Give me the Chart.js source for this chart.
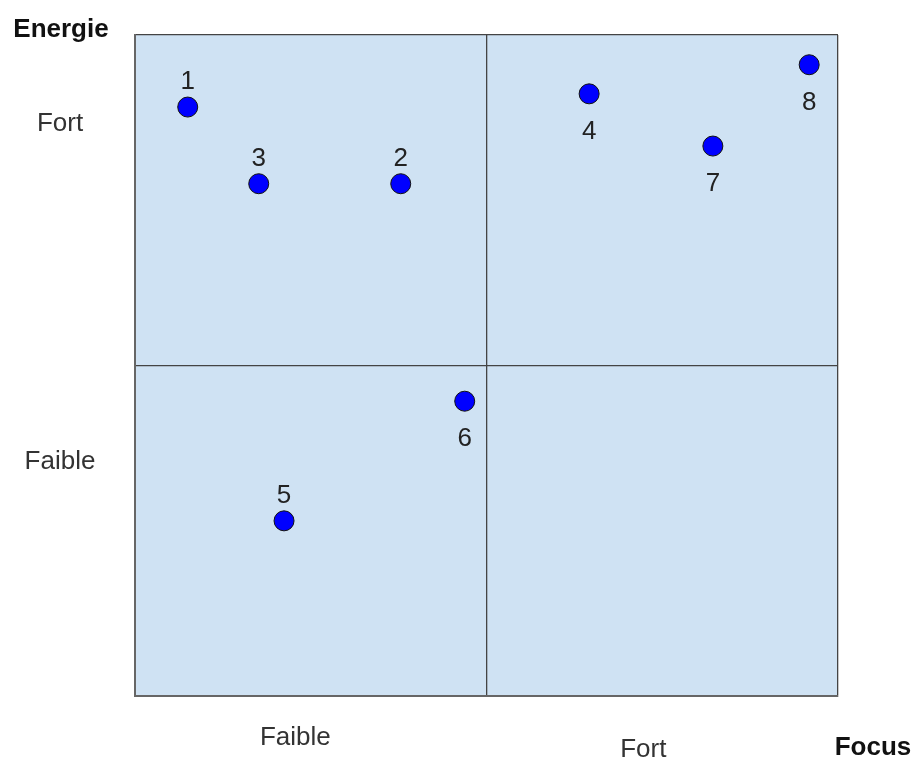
<!DOCTYPE html>
<html>
<head>
<meta charset="utf-8">
<script src="https://cdn.jsdelivr.net/npm/chart.js@4/dist/chart.umd.min.js"></script>
<style>
  html, body { margin: 0; padding: 0; background: #fff; }
  canvas { display: block; }
</style>
</head>
<body>
<canvas id="quadrant" width="915" height="762"></canvas>
<script>
// points: focus (x) and energie (y), 0..10
const pointNames = ['1', '2', '3', '4', '5', '6', '7', '8'];
const focusValues = [0.75, 3.78, 1.76, 6.46, 2.12, 4.69, 8.22, 9.59];
const energyValues = [8.91, 7.75, 7.75, 9.11, 2.65, 4.46, 8.32, 9.55];
const labelSide = ['top', 'top', 'top', 'bottom', 'top', 'bottom', 'bottom', 'bottom'];

// axis categories
const xTickLabels = ['Faible', 'Fort'];
const xTickValues = [2.28, 7.23];
const yTickLabels = ['Fort', 'Faible'];
const yTickValues = [8.65, 3.54];
const xAxisTitle = 'Focus';
const yAxisTitle = 'Energie';

const FONT = '"Liberation Sans", Arial, sans-serif';

// light blue fill behind the plot
const areaFill = {
    id: 'areaFill',
    beforeDraw(chart) {
        const a = chart.chartArea;
        const ctx = chart.ctx;
        ctx.save();
        ctx.fillStyle = '#cfe2f3';
        ctx.fillRect(a.left, a.top, a.right - a.left, a.bottom - a.top);
        ctx.restore();
    }
};

// numbers next to each point + category texts
const textLabels = {
    id: 'textLabels',
    afterDatasetsDraw(chart) {
        const ctx = chart.ctx;
        const xs = chart.scales.x;
        const ys = chart.scales.y;
        const meta = chart.getDatasetMeta(0);
        ctx.save();
        ctx.textAlign = 'center';
        ctx.textBaseline = 'middle';
        ctx.fillStyle = '#222';
        ctx.font = '26px ' + FONT;
        meta.data.forEach(function(pt, i) {
            const off = labelSide[i] == 'top' ? -25 : 38;
            ctx.fillText(pointNames[i], pt.x, pt.y + off);
        });

        ctx.fillStyle = '#333';
        for (var i = 0; i < xTickLabels.length; i++) {
            const px = xs.getPixelForValue(xTickValues[i]);
            ctx.fillText(xTickLabels[i], px, chart.chartArea.bottom + 42 + i * 12);
        }
        for (var j = 0; j < yTickLabels.length; j++) {
            const py = ys.getPixelForValue(yTickValues[j]);
            ctx.fillText(yTickLabels[j], 60, py);
        }

        ctx.fillStyle = '#111';
        ctx.font = 'bold 26px ' + FONT;
        ctx.fillText(xAxisTitle, 873, 748);
        ctx.fillText(yAxisTitle, 61, 30);
        ctx.restore();
    }
};

const ctx = document.getElementById('quadrant').getContext('2d');
const chart = new Chart(ctx, {
    type: 'scatter',
    data: {
        datasets: [{
            data: focusValues.map((v, i) => ({ x: v, y: energyValues[i] })),
            backgroundColor: '#0000ff',
            borderColor: '#111',
            borderWidth: 1,
            pointRadius: 10,
            pointHoverRadius: 10
        }]
    },
    options: {
        responsive: false,
        animation: false,
        layout: {
            padding: { left: 135, top: 35, right: 77, bottom: 66 }
        },
        plugins: {
            legend: { display: false },
            tooltip: { enabled: false }
        },
        scales: {
            x: {
                type: 'linear',
                min: 0,
                max: 10,
                ticks: { display: false, stepSize: 5 },
                grid: { color: '#444', lineWidth: 1.3, drawTicks: false },
                border: { display: true, color: '#666', width: 2 }
            },
            y: {
                type: 'linear',
                min: 0,
                max: 10,
                ticks: { display: false, stepSize: 5 },
                grid: { color: '#444', lineWidth: 1.3, drawTicks: false },
                border: { display: true, color: '#666', width: 2 }
            }
        }
    },
    plugins: [areaFill, textLabels]
});
</script>
</body>
</html>
